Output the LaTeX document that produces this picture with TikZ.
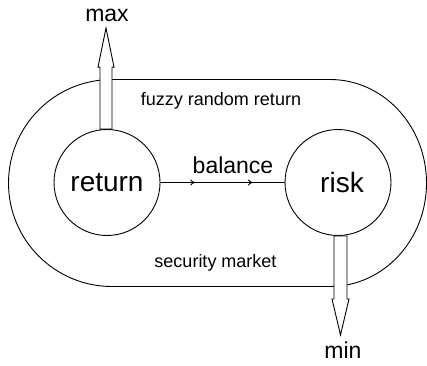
\documentclass[tikz,border=0pt]{standalone}
\usepackage{fontspec}
\setmainfont{Liberation Sans}
\usetikzlibrary{calc,decorations.markings,arrows.meta}
\begin{document}
\begin{tikzpicture}[x=1pt,y=1pt,line width=0.9pt,
  bigcirc/.style={circle,draw,fill=white,minimum size=106pt,inner sep=0pt,
    font=\fontsize{28}{30}\selectfont},
  midlabel/.style={font=\fontsize{23}{25}\selectfont,anchor=base},
  smalllabel/.style={font=\fontsize{18}{20}\selectfont,anchor=base},
  blockarrow/.style={draw,fill=white,line width=0.9pt,line join=miter}]
\useasboundingbox (0,0) rectangle (427,365);

% outer market boundary
\draw (112,285.5) -- (330,285.5)
  arc[start angle=90,end angle=-90,x radius=96.5,y radius=103.5]
  -- (112,78.5)
  arc[start angle=270,end angle=90,radius=103.5] -- cycle;

% the two goals
\node[bigcirc] (ret) at (107,182.5) {return};
\node[bigcirc] (risk) at (338,182.5) {\hspace*{8pt}risk};

% balance link with two arrow heads
\draw[decoration={markings,
    mark=at position 0.28 with {\arrow{To[length=5pt,width=6pt]}},
    mark=at position 0.745 with {\arrow{To[length=5pt,width=6pt]}}},
  postaction={decorate}] (ret.east) -- (risk.west);

% maximise arrow on return
\coordinate (mx) at ($(ret.north)+(-1,0)$);
\draw[blockarrow] ($(mx)+(-6,0)$) -- ($(mx)+(-6,62)$) -- ($(mx)+(-8,62)$)
  -- ($(mx)+(0,101)$) -- ($(mx)+(8,62)$) -- ($(mx)+(6,62)$)
  -- ($(mx)+(6,0)$) -- cycle;

% minimise arrow on risk
\coordinate (mn) at ($(risk.south)+(2.5,0)$);
\draw[blockarrow] ($(mn)+(-6.5,0)$) -- ($(mn)+(-6.5,-63)$) -- ($(mn)+(-8.5,-63)$)
  -- ($(mn)+(0,-99)$) -- ($(mn)+(8.5,-63)$) -- ($(mn)+(6.5,-63)$)
  -- ($(mn)+(6.5,0)$) -- cycle;

% labels
\node[midlabel] (maxl) at (107,343) {max};
\node[midlabel] (minl) at (343,7) {min};
\node[midlabel] (bal) at (233,192) {balance};
\node[smalllabel] (fuzzy) at (221,260) {fuzzy random return};
\node[smalllabel] (sec) at (215.5,98) {security market};
\end{tikzpicture}
\end{document}
